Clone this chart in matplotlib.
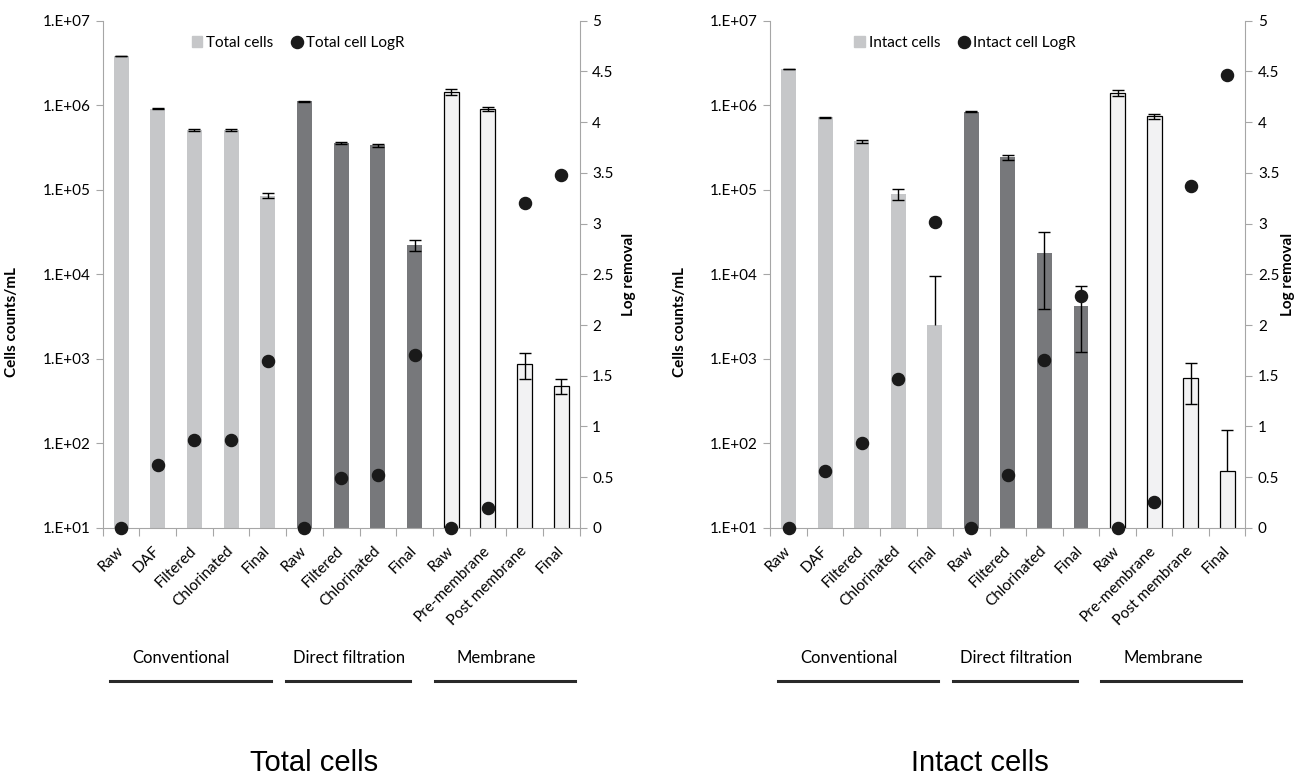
import numpy as np
import matplotlib
matplotlib.use('Agg')
import matplotlib.pyplot as plt
import matplotlib.transforms as mtransforms
from matplotlib.patches import Rectangle
from matplotlib.lines import Line2D
from matplotlib.ticker import FuncFormatter, NullLocator, FixedLocator

plt.rcParams['font.family'] = ['Lato', 'DejaVu Sans']

# Data
stages = ['Raw', 'DAF', 'Filtered', 'Chlorinated', 'Final',
          'Raw', 'Filtered', 'Chlorinated', 'Final',
          'Raw', 'Pre-membrane', 'Post membrane', 'Final']
groups = ['Conventional', 'Direct filtration', 'Membrane']
group_size = [5, 4, 4]

total_cells = [3.82e6, 9.1e5, 5.05e5, 5.05e5, 8.5e4,
               1.11e6, 3.56e5, 3.36e5, 2.2e4,
               1.43e6, 9.1e5, 880, 480]
total_err = [3e4, 1e4, 1.5e4, 1.5e4, 6e3,
             1e4, 1.2e4, 1.2e4, 3.2e3,
             1.2e5, 4.5e4, 300, 100]
total_logr = [0, 0.62, 0.87, 0.87, 1.65,
              0, 0.49, 0.52, 1.70,
              0, 0.20, 3.20, 3.48]

intact_cells = [2.69e6, 7.2e5, 3.77e5, 8.85e4, 2540,
                8.37e5, 2.43e5, 1.79e4, 4210,
                1.40e6, 7.45e5, 590, 47.5]
intact_err = [2e4, 8e3, 1.5e4, 1.3e4, 6900,
              8e3, 1.5e4, 1.4e4, 3000,
              1.2e5, 5e4, 300, 98]
intact_logr = [0, 0.56, 0.84, 1.47, 3.02,
               0, 0.52, 1.66, 2.29,
               0, 0.26, 3.37, 4.46]

# Styling
group_colors = ['#c6c7c9', '#77787b', '#f2f2f3']
group_edges = ['none', 'none', 'black']
axis_grey = '#a6a6a6'
group_text_x = [1.64, 6.22, 10.24]
group_line_x = [(-0.30, 4.10), (4.50, 7.88), (8.56, 12.38)]


def draw_panel(fig, rect, cells, err, logr, bar_label, dot_label, title, title_x, logr_label_x):

    ax = fig.add_axes(rect)
    ax2 = ax.twinx()
    x = np.arange(len(stages))
    cells = np.array(cells, dtype=float)
    err = np.array(err, dtype=float)

    colors = []
    edges = []
    for g, n in enumerate(group_size):
        colors += [group_colors[g]] * n
        edges += [group_edges[g]] * n

    ax.bar(x, cells, width=0.41, color=colors, edgecolor=edges, linewidth=0.9, zorder=2)

    # error bars: lower whisker dropped where it would go below zero (log axis)
    top = cells + err
    bot = cells - err
    ok = bot > 0
    ax.vlines(x, np.where(ok, bot, cells), top, color='black', lw=1, zorder=3)
    ax.plot(x, top, '_', color='black', ms=8, mew=1, zorder=3)
    ax.plot(x[ok], bot[ok], '_', color='black', ms=8, mew=1, zorder=3)

    ax.set_yscale('log')
    ax.set_ylim(10, 1e7)
    ax.set_xlim(-0.5, len(stages) - 0.5)
    ax.yaxis.set_major_locator(FixedLocator([10.0 ** k for k in range(1, 8)]))
    ax.yaxis.set_minor_locator(NullLocator())
    ax.yaxis.set_major_formatter(FuncFormatter(lambda v, p: '1.E+%02d' % round(np.log10(v))))

    ax.set_xticks(np.arange(-0.5, len(stages)), [''] * (len(stages) + 1))
    ax.set_xticks(x, stages, minor=True)
    ax.tick_params(axis='x', which='major', length=6, color=axis_grey)
    ax.tick_params(axis='x', which='minor', length=0, pad=15, labelsize=11)
    for lab in ax.get_xticklabels(minor=True):
        lab.set_rotation(45)
        lab.set_ha('right')
        lab.set_va('center')
        lab.set_rotation_mode('anchor')
    ax.tick_params(axis='y', length=5, color=axis_grey, labelsize=11, pad=4)

    for s in ['top', 'right']:
        ax.spines[s].set_visible(False)
    for s in ['left', 'bottom']:
        ax.spines[s].set_color(axis_grey)

    ax.set_ylabel('Cells counts/mL', fontsize=11, fontweight='bold')
    ax.yaxis.set_label_coords(-0.176, 0.406)

    # log removal on the secondary axis
    ax2.plot(x, logr, 'o', color='#1a1a1a', ms=8.7, clip_on=False, zorder=5)
    ax2.set_ylim(0, 5)
    ax2.set_yticks(np.arange(0, 5.01, 0.5), ['0', '0.5', '1', '1.5', '2', '2.5', '3', '3.5', '4', '4.5', '5'])
    ax2.tick_params(axis='y', length=5, color=axis_grey, labelsize=11, pad=4)
    for s in ['top', 'left', 'bottom']:
        ax2.spines[s].set_visible(False)
    ax2.spines['right'].set_color(axis_grey)
    ax2.set_ylabel('Log removal', fontsize=11, fontweight='bold')
    ax2.yaxis.set_label_coords(logr_label_x, 0.5)

    handles = [Rectangle((0, 0), 1, 1, color=group_colors[0]),
               Line2D([], [], marker='o', ls='none', color='#1a1a1a', ms=8.7)]
    ax.legend(handles, [bar_label, dot_label], loc='center', bbox_to_anchor=(0.41, 0.956),
              ncol=2, frameon=False, fontsize=11, handlelength=0.7, handleheight=0.7,
              handletextpad=0.25, columnspacing=1.2)

    # group labels and underlines
    trans = mtransforms.blended_transform_factory(ax.transData, fig.transFigure)
    for g, name in enumerate(groups):
        ax.text(group_text_x[g], 1 - 658 / 776, name, transform=trans, ha='center', va='center', fontsize=12)
        x0, x1 = group_line_x[g]
        ax.add_line(Line2D([x0, x1], [1 - 681 / 776] * 2, transform=trans, color='#2a2a2a', lw=2.2, clip_on=False))

    fig.text(title_x, 1 - 763 / 776, title, ha='center', va='center', fontsize=21, family='Liberation Sans')

    return ax, ax2


fig = plt.figure(figsize=(12.96, 7.76), dpi=100)

draw_panel(fig, [0.0793, 0.3197, 0.3679, 0.6536], total_cells, total_err, total_logr,
           'Total cells', 'Total cell LogR', 'Total cells', 313.8 / 1296, 1.09)
draw_panel(fig, [0.5944, 0.3197, 0.3666, 0.6536], intact_cells, intact_err, intact_logr,
           'Intact cells', 'Intact cell LogR', 'Intact cells', 979.6 / 1296, 1.075)

fig.savefig('out.png', dpi=100)
